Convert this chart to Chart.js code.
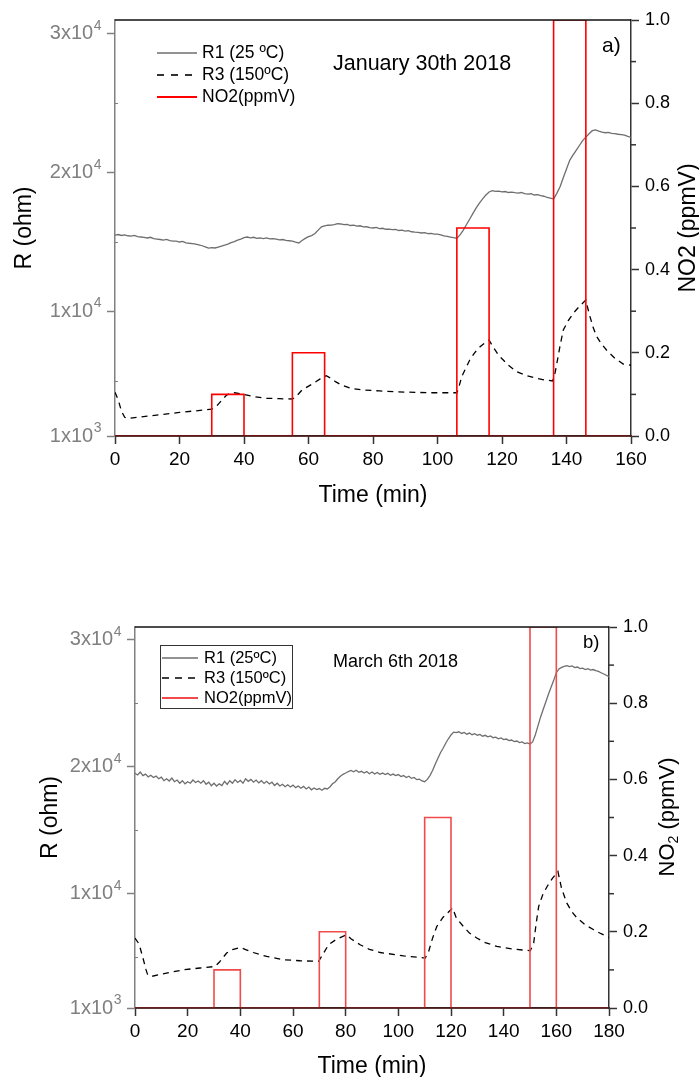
<!DOCTYPE html>
<html>
<head>
<meta charset="utf-8">
<script src="https://cdn.jsdelivr.net/npm/chart.js@4.4.0/dist/chart.umd.min.js"></script>
<style>
  html, body { margin: 0; padding: 0; background: #fff; overflow: hidden; }
  .panel { position: absolute; left: 0; }
</style>
</head>
<body>
<div class="panel" style="top:0"><canvas id="chartA" width="699" height="530"></canvas></div>
<div class="panel" style="top:560px"><canvas id="chartB" width="699" height="530"></canvas></div>
<script>
// axis ticks
const timeTicksA = [0, 20, 40, 60, 80, 100, 120, 140, 160];
const timeTicksB = [0, 20, 40, 60, 80, 100, 120, 140, 160, 180];
const rTicks = [1000, 10000, 20000, 30000];
const rTickBase = ['1x10', '1x10', '2x10', '3x10'];
const rTickPower = ['3', '4', '4', '4'];
const rMinorTicks = [5000, 15000, 25000];
const no2Ticks = [0, 0.2, 0.4, 0.6, 0.8, 1.0];
const no2MinorTicks = [0.1, 0.3, 0.5, 0.7, 0.9];

// January 30th 2018 -- R1 logged once a minute from t = 0 (ohm)
const r1A = [
  15490, 15530, 15460, 15500, 15440, 15420, 15470, 15380, 15350, 15320,
  15280, 15330, 15230, 15200, 15170, 15130, 15180, 15090, 15060, 15050,
  14990, 15030, 14930, 14900, 14880, 14840, 14790, 14720, 14640, 14550,
  14580, 14560, 14620, 14700, 14760, 14840, 14950, 15020, 15130, 15200,
  15300, 15350, 15290, 15330, 15250, 15280, 15240, 15290, 15210, 15230,
  15200, 15150, 15170, 15100, 15080, 15060, 14980, 14920, 15100, 15250,
  15380, 15450, 15600, 15850, 16080, 16150, 16200, 16210, 16250, 16310,
  16290, 16240, 16260, 16180, 16200, 16140, 16160, 16080, 16090, 16030,
  16000, 16040, 15960, 15980, 15910, 15920, 15880, 15900, 15820, 15840,
  15780, 15810, 15730, 15700, 15680, 15640, 15660, 15590, 15610, 15560,
  15560, 15500, 15430, 15400, 15350, 15300, 15260, 15500, 15850, 16250,
  16650, 17050, 17450, 17800, 18100, 18380, 18600, 18690, 18640, 18660,
  18610, 18630, 18560, 18590, 18550, 18520, 18560, 18480, 18450, 18470,
  18380, 18410, 18330, 18290, 18200, 18150, 18090, 18500, 18980, 19620,
  20260, 20880, 21250, 21600, 21950, 22300, 22550, 22800, 23020, 23070,
  22980, 22920, 22870, 22900, 22830, 22800, 22760, 22730, 22690, 22600,
  22540
];
const r3TimesA = [
  0, 1, 2, 3, 4, 10, 20, 30, 31.5, 33, 34.6, 36, 37, 40, 42.8, 47, 51, 55,
  56, 58, 61.5, 63.5, 65.5, 67, 68.5, 70, 73, 77, 82, 87, 97, 106,
  106.5, 107.5, 109, 110, 111.5, 113.2, 115, 116, 117, 118, 119, 120.4, 122,
  124.5, 127, 130, 133, 135.7, 136.5, 137.2, 138, 139, 140.5, 142.1, 144, 146,
  146.5, 147.3, 148.3, 149.4, 150.8, 152.4, 155, 157.6, 160
];
const r3A = [
  4150, 3600, 2800, 2350, 2270, 2430, 2700, 2930, 3150, 3550, 3950, 4100, 4120, 4000, 3850, 3720, 3690, 3670,
  3800, 4320, 4800, 5100, 5350, 5150, 4900, 4700, 4440, 4320, 4250, 4190, 4120, 4120,
  4400, 5280, 6000, 6480, 7000, 7440, 7780, 7920, 7500, 7150, 6800, 6480, 6100,
  5640, 5400, 5200, 5050, 4970, 5600, 6480, 7500, 8640, 9300, 9850, 10350, 10800,
  10300, 9600, 8800, 8160, 7650, 7200, 6600, 6190, 6100
];
const no2TimesA = [0, 30, 40, 55, 65, 106, 116, 136, 146, 160];
const no2A = [0, 0.1, 0, 0.2, 0, 0.5, 0, 1.0, 0, 0];

// March 6th 2018
const r1B = [
  19490, 19350, 19580, 19300, 19420, 19200, 19330, 19150, 19260, 19050,
  19180, 18900, 19050, 18870, 19100, 18820, 18950, 18700, 18900, 18650,
  18820, 18700, 18950, 18760, 18880, 18700, 18900, 18620, 18780, 18500,
  18700, 18480, 18650, 18520, 18850, 18600, 18900, 18700, 18980, 18760,
  18920, 18700, 19050, 18850, 19000, 18780, 18950, 18720, 18900, 18680,
  18850, 18640, 18780, 18520, 18700, 18480, 18620, 18420, 18580, 18400,
  18550, 18350, 18480, 18300, 18450, 18250, 18400, 18180, 18320, 18200,
  18280, 18150, 18300, 18250, 18400, 18650, 18800, 19050, 19250, 19400,
  19500, 19620, 19700, 19600, 19720, 19560, 19640, 19500, 19620, 19450,
  19580, 19420, 19550, 19400, 19500, 19380, 19480, 19320, 19420, 19300,
  19380, 19220, 19300, 19150, 19250, 19080, 19150, 18980, 19020, 18880,
  18820, 19000, 19300, 19700, 20200, 20650, 21100, 21450, 21850, 22200,
  22500, 22720, 22680, 22750, 22620, 22700, 22560, 22650, 22520, 22600,
  22480, 22540, 22400, 22470, 22350, 22420, 22280, 22330, 22200, 22260,
  22130, 22180, 22050, 22100, 21980, 22020, 21900, 21950, 21820, 21880,
  21780, 21950, 22500, 23200, 23900, 24500, 25100, 25700, 26250, 26800,
  27400, 27700, 27820, 27900, 27950, 27880, 27930, 27800, 27850, 27720,
  27760, 27650, 27720, 27600, 27650, 27560, 27500, 27400, 27300, 27200,
  27090
];
const r3TimesB = [
  0, 1.3, 2, 3.2, 4.2, 4.8, 6.3, 12, 18.4, 24.7, 30.4, 32, 34.8, 37, 39.9,
  42, 44.9, 50, 56.4, 62.7, 69.7, 71, 73.5, 76.6, 80.4, 82, 85.5, 89, 93.1, 102,
  110.2, 111.5, 113, 114.6, 117, 120.6, 122, 124.7, 127, 129.8, 133, 137.4, 143,
  150.1, 151.4, 152.3, 153.3, 154.8, 156.5, 158.5, 160.6, 162, 164, 166, 167.9,
  171, 174.2, 177, 180
];
const r3B = [
  6510, 6110, 5700, 4800, 4000, 3620, 3490, 3750, 4010, 4150, 4270, 4600, 5330, 5600, 5770,
  5600, 5370, 5060, 4800, 4720, 4670, 5100, 5980, 6430, 6770, 6450, 5980, 5620, 5370, 5110,
  4930, 5450, 6500, 7420, 8150, 8870, 8100, 7420, 6900, 6510, 6150, 5850, 5650,
  5510, 6110, 7600, 9000, 9900, 10570, 11200, 11750, 10400, 9260, 8550, 8080,
  7550, 7160, 6850, 6550
];
const no2TimesB = [0, 30, 40, 70, 80, 110, 120, 150, 160, 180];
const no2B = [0, 0.1, 0, 0.2, 0, 0.5, 0, 1.0, 0, 0];

const FONT = "'Liberation Sans', Arial, Helvetica, sans-serif";

const toPoints = (xs, ys) => xs.map((x, i) => ({ x, y: ys[i] }));
const perMinute = ys => ys.map((y, i) => ({ x: i, y }));

function hline(ctx, x1, y1, x2, y2) {
  ctx.beginPath();
  ctx.moveTo(x1, y1);
  ctx.lineTo(x2, y2);
  ctx.stroke();
}

// top/bottom edges of the frame, short in-between ticks, and the
// resistance labels (written with a raised exponent)
const framePlugin = {
  id: 'frame',
  afterDatasetsDraw(chart, args, o) {
    const { ctx, chartArea: a } = chart;
    ctx.save();
    ctx.lineWidth = 1.5;
    ctx.strokeStyle = '#111';
    hline(ctx, a.left, a.top, a.right, a.top);
    ctx.strokeStyle = o.bottom;
    hline(ctx, a.left, a.bottom, a.right, a.bottom);
    ctx.lineWidth = 1;
    ctx.strokeStyle = '#808080';
    const yl = chart.scales.y;
    rMinorTicks.forEach(v => {
      const py = Math.round(yl.getPixelForValue(v)) + 0.5;
      hline(ctx, a.left, py, a.left + 3, py);
    });
    ctx.lineWidth = 1.5;
    ctx.strokeStyle = '#333';
    const yr = chart.scales.y2;
    no2MinorTicks.forEach(v => {
      const py = yr.getPixelForValue(v);
      hline(ctx, a.right, py, a.right + 5, py);
    });

    ctx.fillStyle = '#808080';
    ctx.textBaseline = 'middle';
    const mainFont = o.labelSize + 'px ' + FONT;
    const supFont = Math.round(o.labelSize * 0.68) + 'px ' + FONT;
    rTicks.forEach((v, i) => {
      const py = yl.getPixelForValue(v);
      ctx.font = supFont;
      const wSup = ctx.measureText(rTickPower[i]).width;
      ctx.font = mainFont;
      const wMain = ctx.measureText(rTickBase[i]).width;
      const x0 = a.left - o.labelGap - wSup - wMain;
      ctx.fillText(rTickBase[i], x0, py);
      ctx.font = supFont;
      ctx.fillText(rTickPower[i], x0 + wMain + 0.5, py - o.labelSize * 0.38);
    });
    ctx.restore();
  }
};

// legend drawn inside the plot, one row per dataset
const keyPlugin = {
  id: 'key',
  afterDraw(chart, args, o) {
    const ctx = chart.ctx;
    ctx.save();
    if (o.box) {
      ctx.strokeStyle = '#333';
      ctx.lineWidth = 1;
      ctx.strokeRect(o.box[0] + 0.5, o.box[1] + 0.5, o.box[2], o.box[3]);
    }
    ctx.font = o.size + 'px ' + FONT;
    ctx.textBaseline = 'middle';
    ctx.fillStyle = '#000';
    chart.data.datasets.forEach((ds, i) => {
      const y = o.rows[i];
      ctx.strokeStyle = ds.borderColor;
      ctx.lineWidth = ds.borderWidth + 0.3;
      ctx.setLineDash(ds.borderDash ? o.dash : []);
      hline(ctx, o.x1, y, o.x2, y);
      ctx.setLineDash([]);
      ctx.fillText(ds.label, o.textX, y);
    });
    ctx.restore();
  }
};

// free text: date, panel letter and the rotated right-hand axis title
const notesPlugin = {
  id: 'notes',
  afterDraw(chart, args, o) {
    const ctx = chart.ctx;
    ctx.save();
    ctx.fillStyle = '#000';
    ctx.textBaseline = 'middle';
    o.items.forEach(it => {
      ctx.font = it.size + 'px ' + FONT;
      ctx.fillText(it.text, it.x, it.y);
    });
    const t = o.rightTitle;
    ctx.translate(t.x, t.y);
    ctx.rotate(-Math.PI / 2);
    const fontFor = p => (p.sub ? Math.round(t.size * 0.65) : t.size) + 'px ' + FONT;
    let total = 0;
    t.parts.forEach(p => { ctx.font = fontFor(p); total += ctx.measureText(p.text).width; });
    let cx = -total / 2;
    t.parts.forEach(p => {
      ctx.font = fontFor(p);
      ctx.fillText(p.text, cx, p.sub ? t.size * 0.3 : 0);
      cx += ctx.measureText(p.text).width;
    });
    ctx.restore();
  }
};

function makePanel(id, p) {
  return new Chart(document.getElementById(id), {
    type: 'line',
    data: {
      datasets: [
        { label: p.labels[0], data: perMinute(p.r1), borderColor: '#6e6e6e', borderWidth: 1.3, yAxisID: 'y', order: 2 },
        { label: p.labels[1], data: toPoints(p.r3Times, p.r3), borderColor: '#000', borderWidth: 1.3, borderDash: [6, 5], yAxisID: 'y', order: 1 },
        { label: p.labels[2], data: toPoints(p.no2Times, p.no2), borderColor: p.red, borderWidth: 1.6, stepped: true, yAxisID: 'y2', order: 0 }
      ]
    },
    options: {
      responsive: false,
      animation: false,
      layout: { padding: { top: p.top, left: 0, right: 0, bottom: 0 } },
      elements: { point: { radius: 0 }, line: { tension: 0 } },
      plugins: {
        legend: { display: false },
        tooltip: { enabled: false },
        frame: { bottom: '#4a1616', labelSize: 20, labelGap: 14 },
        key: p.key,
        notes: p.notes
      },
      scales: {
        x: {
          type: 'linear',
          min: 0,
          max: p.timeTicks[p.timeTicks.length - 1],
          afterBuildTicks: s => { s.ticks = p.timeTicks.map(v => ({ value: v })); },
          afterFit: s => { s.height = p.xHeight; },
          ticks: { font: { size: 19, family: FONT }, color: '#000', padding: 4, maxRotation: 0, autoSkip: false },
          grid: { drawOnChartArea: false, tickLength: 8, tickColor: '#333', tickWidth: 1.5 },
          border: { color: '#333', width: 1.5 },
          title: { display: true, text: 'Time (min)', color: '#000', font: { size: 23, family: FONT }, padding: { top: 0, bottom: p.xTitlePad } }
        },
        y: {
          type: 'linear',
          position: 'left',
          min: 1000,
          max: 31000,
          afterBuildTicks: s => { s.ticks = rTicks.map(v => ({ value: v })); },
          afterFit: s => { s.width = p.left; },
          ticks: { display: false },
          grid: { drawOnChartArea: false, tickLength: 8, tickColor: '#808080', tickWidth: 1.5 },
          border: { color: '#808080', width: 1.5 },
          title: { display: true, text: 'R (ohm)', color: '#000', font: { size: 23, family: FONT }, padding: { top: p.yTitlePad, bottom: 0 } }
        },
        y2: {
          type: 'linear',
          position: 'right',
          min: 0,
          max: 1,
          afterBuildTicks: s => { s.ticks = no2Ticks.map(v => ({ value: v })); },
          afterFit: s => { s.width = 699 - p.right; },
          ticks: { font: { size: 18, family: FONT }, color: '#000', padding: 6, callback: v => v.toFixed(1) },
          grid: { drawOnChartArea: false, tickLength: 8, tickColor: '#333', tickWidth: 1.5 },
          border: { color: '#333', width: 1.5 }
        }
      }
    },
    plugins: [framePlugin, keyPlugin, notesPlugin]
  });
}

makePanel('chartA', {
  labels: ['R1 (25 ºC)', 'R3 (150ºC)', 'NO2(ppmV)'],
  r1: r1A, r3Times: r3TimesA, r3: r3A, no2Times: no2TimesA, no2: no2A,
  red: '#ff0000',
  timeTicks: timeTicksA,
  top: 20, left: 115, right: 631, xHeight: 94, xTitlePad: 21, yTitlePad: 11,
  key: { x1: 157, x2: 197, textX: 202, rows: [53, 75, 97], size: 17.5, dash: [7, 7], box: null },
  notes: {
    items: [
      { text: 'January 30th 2018', x: 333, y: 64, size: 21.5 },
      { text: 'a)', x: 602, y: 46, size: 21 }
    ],
    rightTitle: { x: 689, y: 228, size: 23, parts: [{ text: 'NO2 (ppmV)' }] }
  }
});

makePanel('chartB', {
  labels: ['R1 (25ºC)', 'R3 (150ºC)', 'NO2(ppmV)'],
  r1: r1B, r3Times: r3TimesB, r3: r3B, no2Times: no2TimesB, no2: no2B,
  red: '#f04a4a',
  timeTicks: timeTicksB,
  top: 67, left: 135, right: 609, xHeight: 82, xTitlePad: 10, yTitlePad: 37,
  key: { x1: 162, x2: 198, textX: 204, rows: [98, 118, 138], size: 16.5, dash: [7, 6], box: [160, 85, 132, 63] },
  notes: {
    items: [
      { text: 'March 6th 2018', x: 333, y: 102, size: 18 },
      { text: 'b)', x: 583, y: 83, size: 18.5 }
    ],
    rightTitle: { x: 668, y: 257, size: 22, parts: [{ text: 'NO' }, { text: '2', sub: true }, { text: ' (ppmV)' }] }
  }
});
</script>
</body>
</html>
